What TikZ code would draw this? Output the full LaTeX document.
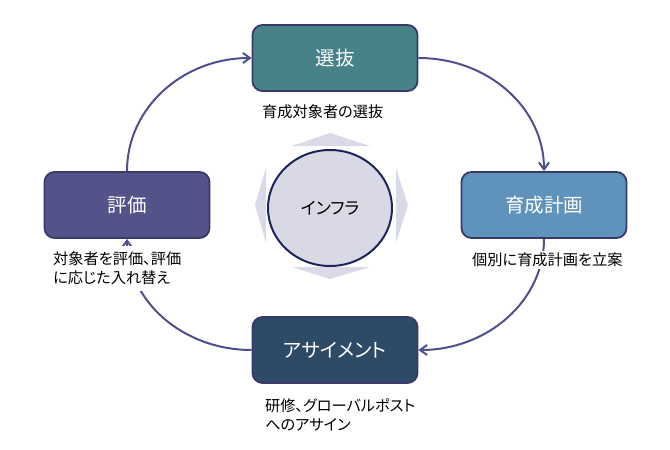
\documentclass[tikz,border=0pt]{standalone}
\usepackage{fontspec}
\setmainfont[RawFeature=+palt]{Noto Sans CJK JP}
\usetikzlibrary{arrows.meta,shapes.geometric}
\definecolor{cSen}{HTML}{478289}
\definecolor{cHyo}{HTML}{535389}
\definecolor{cIku}{HTML}{5F93BB}
\definecolor{cAsa}{HTML}{2D4A66}
\definecolor{cBd}{HTML}{3A3A6A}
\definecolor{cArr}{HTML}{4F4F8F}
\definecolor{cCir}{HTML}{D9D9E6}
\definecolor{cCirBd}{HTML}{1C2558}
\definecolor{cTri}{HTML}{D9D9E8}
\begin{document}
\begin{tikzpicture}[x=1pt,y=-1pt,
  stagebox/.style={draw=cBd,line width=1.8pt,rounded corners=10pt,minimum width=165pt,minimum height=66pt,text=white,font=\fontsize{19.5}{22}\selectfont,inner sep=0pt},
  cyc/.style={draw=cArr,line width=2pt,-{Straight Barb[length=7pt,width=10pt,line width=2pt]}},
  lbl/.style={fill=white,inner sep=2pt,align=left,font=\fontsize{15.2}{19}\selectfont,text=black},
  tri/.style={fill=cTri}]
\useasboundingbox (0,0) rectangle (670,450);
% radial shapes
\fill[tri] (292,146) -- (330,133) -- (370,146) -- cycle;
\fill[tri] (292,267) -- (330,279) -- (370,267) -- cycle;
\fill[tri] (266,168) -- (255,205) -- (266,243) -- cycle;
\fill[tri] (396,168) -- (408,205) -- (396,243) -- cycle;
\node[ellipse,draw=cCirBd,line width=2pt,fill=cCir,minimum width=124pt,minimum height=116pt,font=\fontsize{17}{20}\selectfont] (infra) at (330,208) {インフラ};
% stage boxes
\node[stagebox,fill=cSen] (sen) at (335,58) {選抜};
\node[stagebox,fill=cHyo] (hyo) at (127,205) {評価};
\node[stagebox,fill=cIku] (iku) at (544,205) {育成計画};
\node[stagebox,fill=cAsa] (asa) at (335,350) {アサイメント};
% cycle connectors
\draw[cyc] (hyo.north) .. controls +(0,-63) and +(-69,0) .. (sen.west);
\draw[cyc] (sen.east) .. controls +(70,0) and +(0,-63) .. (iku.north);
\draw[cyc] (iku.south) .. controls +(0,62) and +(69,0) .. (asa.east);
\draw[cyc] (asa.west) .. controls +(-69,0) and +(0,62) .. (hyo.south);
% labels
\node[lbl,anchor=west] (lsen) at (260,112) {育成対象者の選抜};
\node[lbl,anchor=west,inner ysep=6pt] (lhyo) at (51,268.5) {対象者を評価、評価\\に応じた入れ替え};
\node[lbl,anchor=west] (liku) at (470,260) {個別に育成計画を立案};
\node[lbl,anchor=west] (lasa) at (263,415) {研修、グローバルポスト\\へのアサイン};
\end{tikzpicture}
\end{document}
